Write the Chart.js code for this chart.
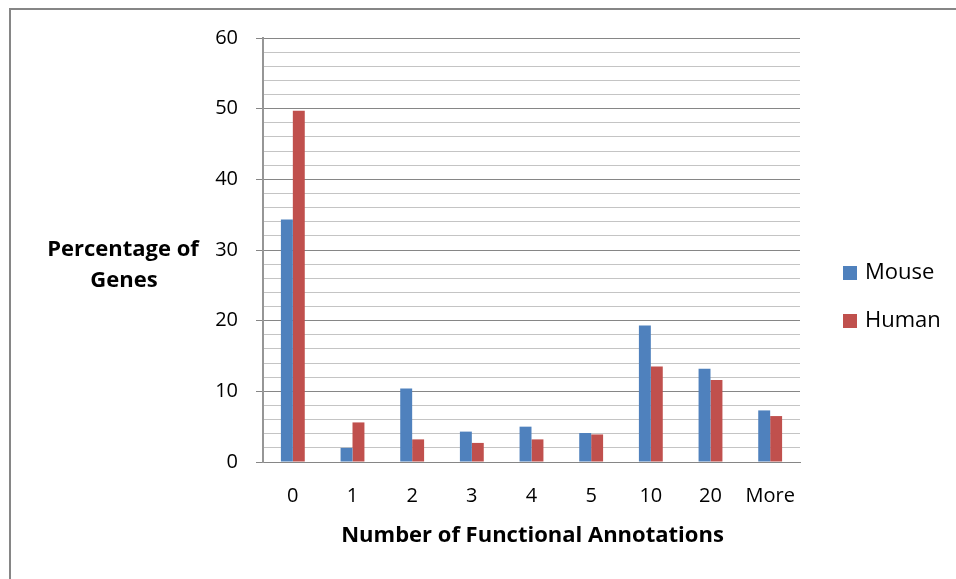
<!DOCTYPE html>
<html>
<head>
<meta charset="utf-8">
<script src="https://cdn.jsdelivr.net/npm/chart.js@4.4.1/dist/chart.umd.min.js"></script>
<style>
  html, body { margin: 0; padding: 0; background: #ffffff; }
  #wrap { position: relative; width: 956px; height: 579px; }
</style>
</head>
<body>
<div id="wrap"><canvas id="chart" width="956" height="579"></canvas></div>
<script>
// Share of genes by number of functional annotations
const categories = ['0', '1', '2', '3', '4', '5', '10', '20', 'More'];
const mouseValues = [34.3, 2.0, 10.4, 4.3, 5.0, 4.1, 19.3, 13.2, 7.3];
const humanValues = [49.7, 5.6, 3.2, 2.7, 3.2, 3.9, 13.5, 11.6, 6.5];
const seriesNames = ['Mouse', 'Human'];
const yTitleLines = ['Percentage of', 'Genes'];
const xTitle = 'Number of Functional Annotations';

const FONT = '"Open Sans", "Noto Sans", "DejaVu Sans", sans-serif';
const MOUSE_COLOR = '#4F81BD';
const HUMAN_COLOR = '#C0504D';

// Frame, axis titles and legend drawn around the plot
const decorations = {
  id: 'decorations',
  beforeDraw(chart) {
    const ctx = chart.ctx;
    ctx.save();
    ctx.strokeStyle = '#868686';
    ctx.lineWidth = 2;
    ctx.beginPath();
    ctx.moveTo(10, 579);
    ctx.lineTo(10, 9);
    ctx.lineTo(956, 9);
    ctx.stroke();
    ctx.restore();
  },
  afterDraw(chart) {
    const ctx = chart.ctx;
    const area = chart.chartArea;
    ctx.save();
    ctx.fillStyle = '#000000';
    ctx.textAlign = 'center';
    ctx.textBaseline = 'middle';
    ctx.font = 'bold 22px ' + FONT;
    ctx.fillText(yTitleLines[0], 123, 250);
    ctx.fillText(yTitleLines[1], 124, 281);
    ctx.fillText(xTitle, (area.left + area.right) / 2 + 1, 536);

    // legend
    ctx.textAlign = 'left';
    ctx.font = '22px ' + FONT;
    const rows = [273, 321];
    chart.data.datasets.forEach((ds, i) => {
      ctx.fillStyle = ds.backgroundColor;
      ctx.fillRect(843, rows[i] - 7, 14, 14);
      ctx.fillStyle = '#000000';
      ctx.fillText(ds.label, 865, rows[i]);
    });
    ctx.restore();
  }
};

new Chart(document.getElementById('chart'), {
  type: 'bar',
  data: {
    labels: categories,
    datasets: [
      { label: seriesNames[0], data: mouseValues, backgroundColor: MOUSE_COLOR },
      { label: seriesNames[1], data: humanValues, backgroundColor: HUMAN_COLOR }
    ]
  },
  options: {
    responsive: false,
    animation: false,
    devicePixelRatio: 1,
    layout: { padding: { left: 0, right: 156, top: 38, bottom: 0 } },
    datasets: { bar: { categoryPercentage: 0.4, barPercentage: 1.0 } },
    plugins: { legend: { display: false }, tooltip: { enabled: false } },
    scales: {
      x: {
        grid: { display: false, drawTicks: false },
        border: { display: true, color: '#868686', width: 1 },
        ticks: { color: '#000000', font: { family: FONT, size: 20 }, padding: 22, maxRotation: 0 },
        afterFit(scale) { scale.height = 117; }
      },
      y: {
        min: 0,
        max: 60,
        ticks: {
          stepSize: 2,
          color: '#000000',
          font: { family: FONT, size: 20 },
          padding: 18,
          autoSkip: false,
          callback: (v) => (v % 10 === 0 ? String(v) : '')
        },
        grid: {
          color: (c) => (c.tick && c.tick.value % 10 === 0 ? '#868686' : '#C4C4C4'),
          tickColor: (c) => (c.tick && c.tick.value % 10 === 0 ? '#868686' : 'rgba(0,0,0,0)'),
          tickLength: 7,
          lineWidth: 1
        },
        border: { display: true, color: '#969696', width: 2 },
        afterFit(scale) { scale.width = 263; }
      }
    }
  },
  plugins: [decorations]
});
</script>
</body>
</html>
